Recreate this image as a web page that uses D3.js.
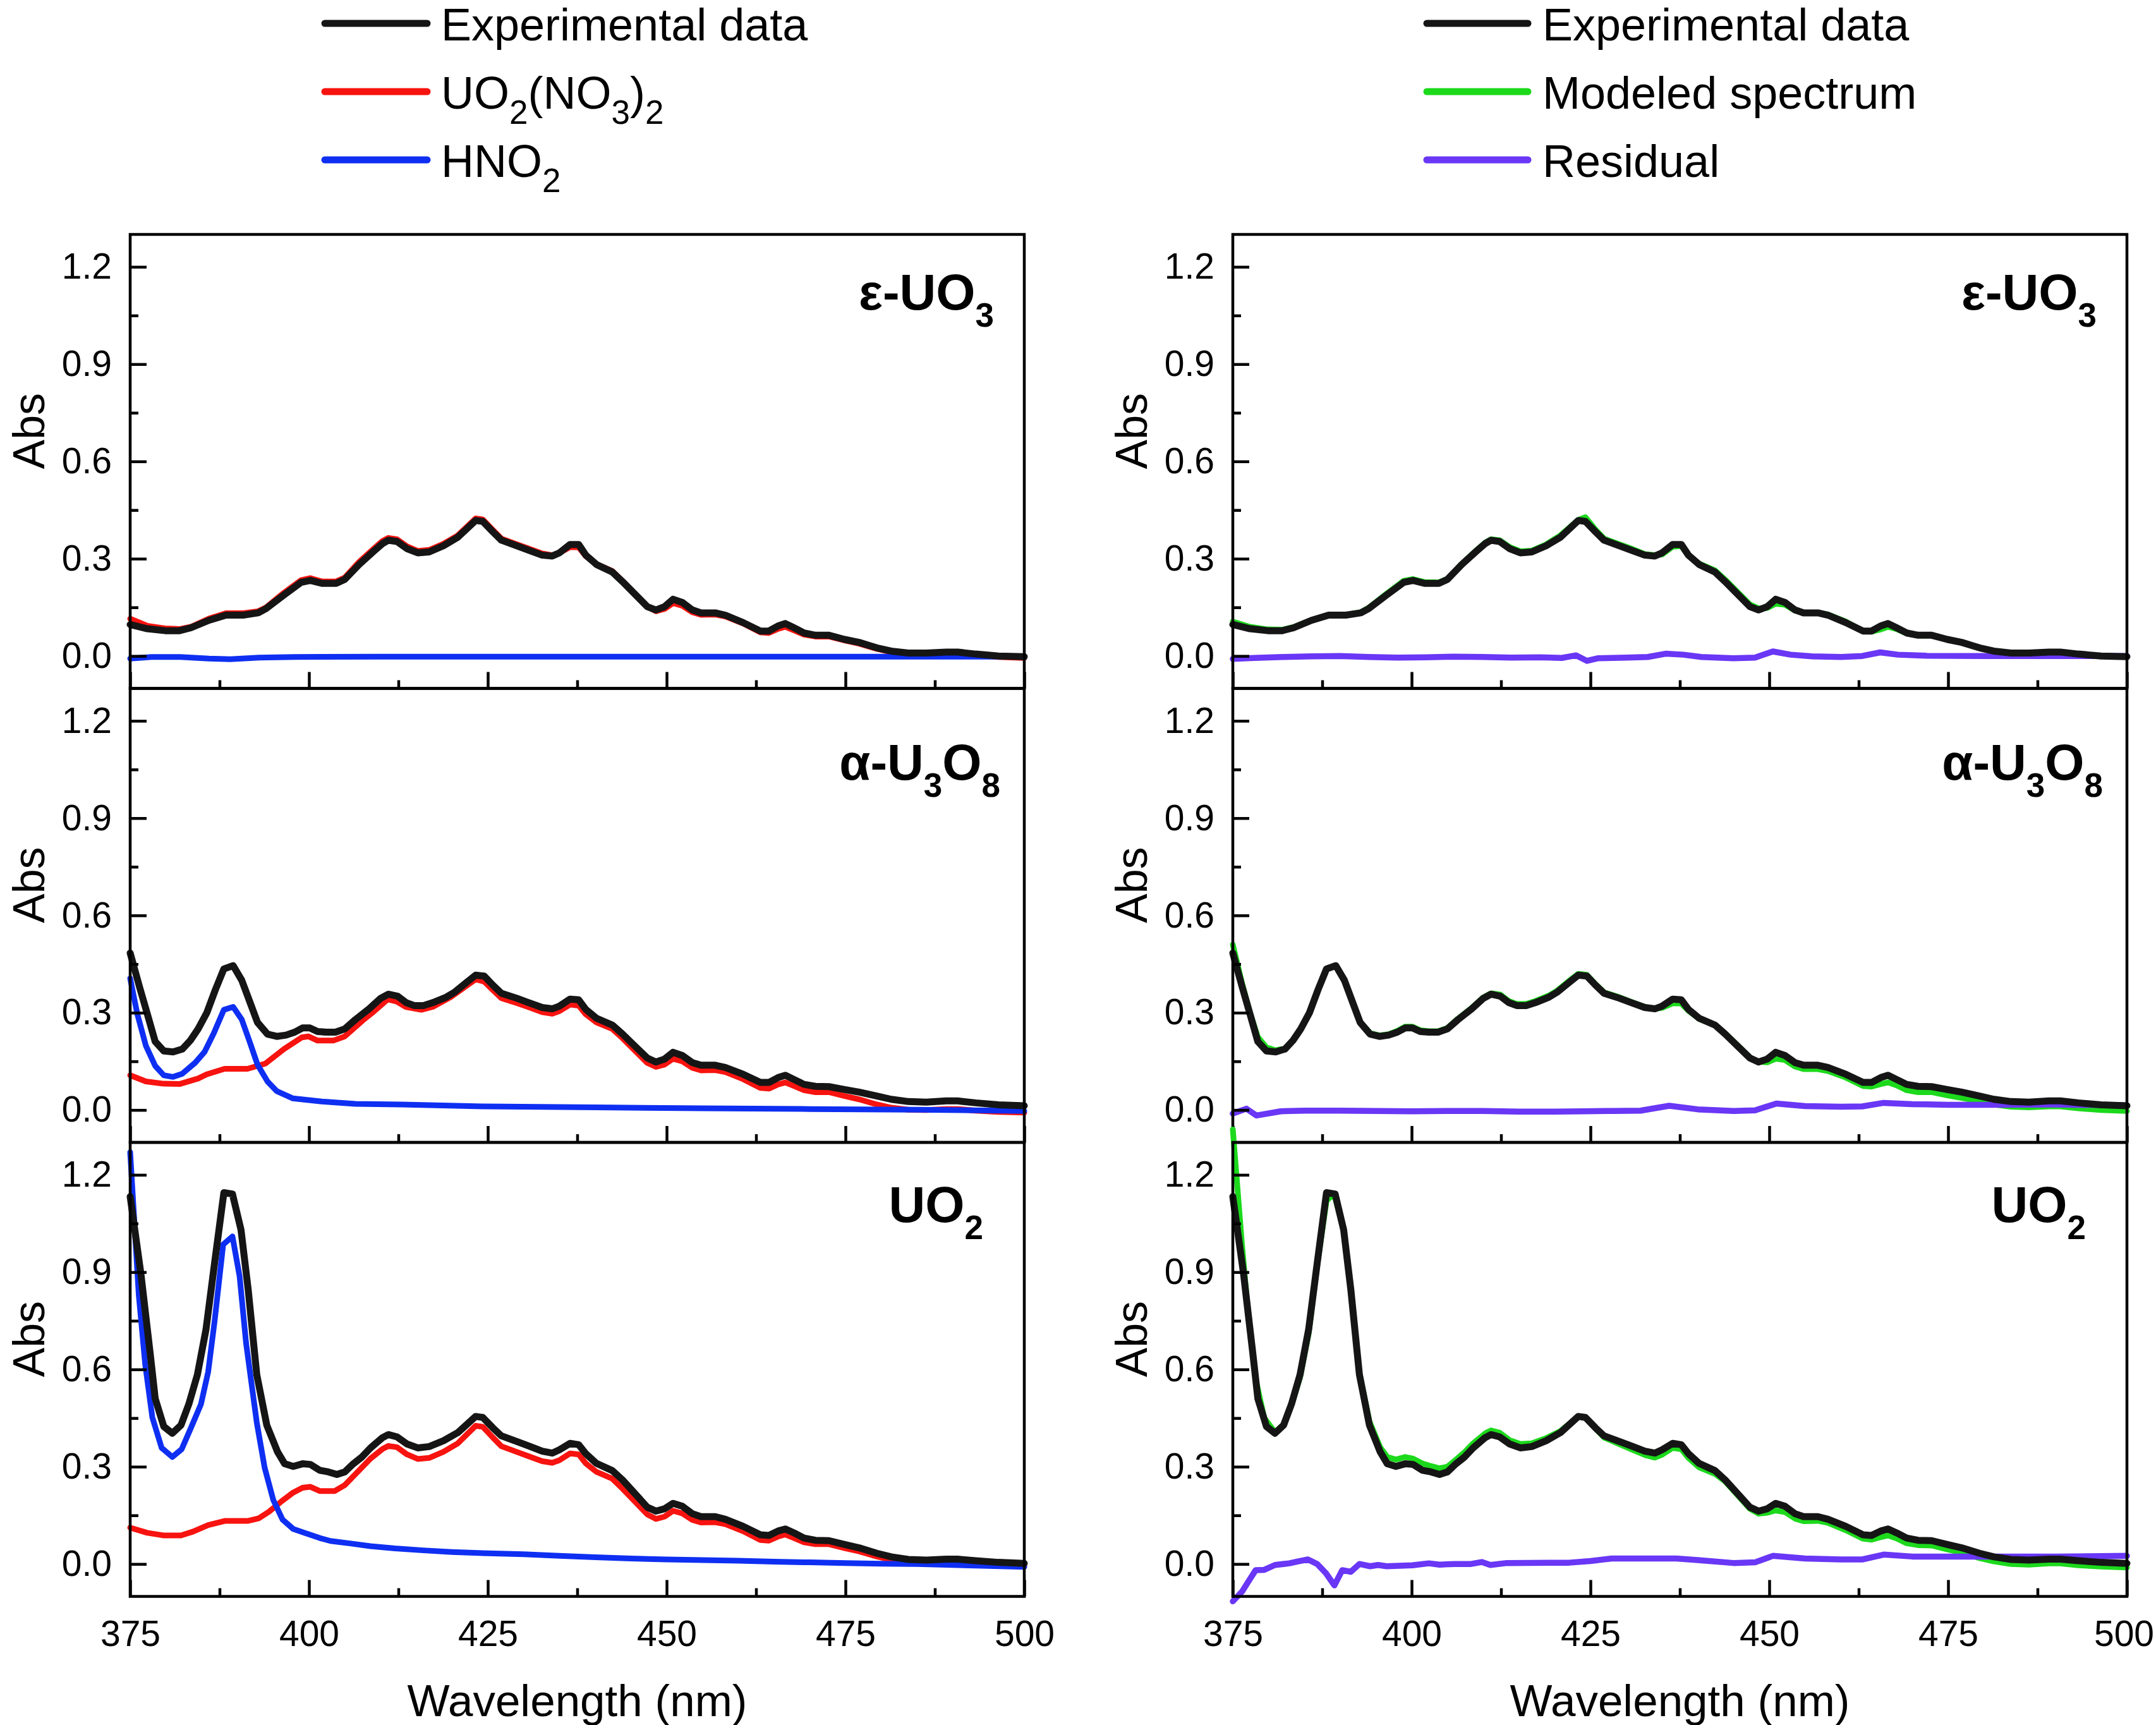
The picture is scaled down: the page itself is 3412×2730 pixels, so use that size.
<!DOCTYPE html>
<html>
<head>
<meta charset="utf-8">
<script src="https://cdn.jsdelivr.net/npm/d3@7"></script>
<style>
  body { margin: 0; background: #fff; }
  text { font-family: "Liberation Sans", Arial, sans-serif; }
</style>
</head>
<body>
<div id="chart"></div>
<script>
// ---- data: [wavelength nm, absorbance] ----
const xTicks = [375, 400, 425, 450, 475, 500];
const xMinor = [387.5, 412.5, 437.5, 462.5, 487.5];
const yTicks = [0.0, 0.3, 0.6, 0.9, 1.2];
const yMinor = [0.15, 0.45, 0.75, 1.05];

// row 1: epsilon-UO3
const expUO3 = [[375,0.097],[377.4,0.084],[379.9,0.078],[381.9,0.078],[383.5,0.087],[386,0.11],[388.4,0.126],[390.8,0.126],[392.9,0.133],[394,0.146],[396.5,0.188],[398.9,0.227],[400.2,0.233],[401.8,0.224],[403.8,0.224],[405,0.236],[407,0.282],[409.1,0.324],[410.3,0.347],[411.1,0.357],[412.3,0.353],[413.7,0.331],[415.2,0.318],[416.8,0.321],[418.8,0.34],[420.8,0.366],[423.3,0.418],[424.3,0.415],[425.7,0.383],[426.9,0.357],[429,0.34],[430.6,0.327],[432.6,0.311],[434,0.308],[435,0.318],[436.5,0.344],[437.7,0.344],[438.7,0.311],[440.2,0.282],[442.4,0.259],[443.8,0.23],[447.3,0.152],[448.5,0.142],[449.7,0.152],[450.9,0.175],[452.2,0.165],[453.6,0.142],[454.8,0.133],[456.8,0.133],[458.2,0.126],[460.7,0.103],[463.1,0.077],[464.3,0.077],[465.6,0.093],[466.6,0.1],[467.8,0.087],[469.2,0.071],[470.8,0.064],[472.7,0.064],[474.9,0.051],[476.9,0.042],[479.4,0.025],[481.4,0.015],[483.8,0.009],[486.3,0.009],[489.1,0.012],[490.7,0.012],[493.2,0.006],[496.4,0.0],[500,-0.002]];
const nitrateUO3 = [[375,0.115],[377.4,0.093],[379.9,0.085],[381.9,0.083],[383.5,0.09],[386,0.115],[388.4,0.132],[390.8,0.132],[392.9,0.138],[394,0.15],[396.5,0.195],[398.9,0.234],[400.2,0.24],[401.8,0.23],[403.8,0.23],[405,0.242],[407,0.29],[409.1,0.332],[410.3,0.355],[411.1,0.364],[412.3,0.36],[413.7,0.338],[415.2,0.324],[416.8,0.327],[418.8,0.346],[420.8,0.372],[423.3,0.424],[424.3,0.421],[425.7,0.389],[426.9,0.362],[429,0.345],[430.6,0.332],[432.6,0.316],[434,0.311],[435,0.318],[436.5,0.336],[437.7,0.335],[438.7,0.308],[440.2,0.283],[442.4,0.262],[443.8,0.232],[447.3,0.152],[448.5,0.138],[449.7,0.145],[450.9,0.163],[452.2,0.155],[453.6,0.135],[454.8,0.127],[456.8,0.128],[458.2,0.122],[460.7,0.1],[463.1,0.073],[464.3,0.071],[465.6,0.084],[466.6,0.09],[467.8,0.079],[469.2,0.066],[470.8,0.06],[472.7,0.06],[474.9,0.048],[476.9,0.038],[479.4,0.022],[481.4,0.012],[483.8,0.006],[486.3,0.006],[489.1,0.009],[490.7,0.009],[493.2,0.003],[496.4,-0.003],[500,-0.006]];
const hno2UO3 = [[375,-0.008],[378,-0.003],[382,-0.003],[386,-0.008],[389,-0.01],[393,-0.005],[398,-0.003],[410,-0.002],[450,-0.002],[500,-0.002]];
const modelUO3 = [[375,0.106],[377.4,0.09],[379.9,0.082],[381.9,0.081],[383.5,0.089],[386,0.111],[388.4,0.126],[390.8,0.126],[392.9,0.135],[394,0.149],[396.5,0.192],[398.9,0.232],[400.2,0.237],[401.8,0.228],[403.8,0.227],[405,0.238],[407,0.284],[409.1,0.327],[410.3,0.35],[411.1,0.36],[412.3,0.357],[413.7,0.336],[415.2,0.323],[416.8,0.325],[418.8,0.344],[420.8,0.372],[423.3,0.42],[424.3,0.428],[425.7,0.39],[426.9,0.362],[429,0.345],[430.6,0.332],[432.6,0.314],[434,0.311],[435,0.313],[436.5,0.337],[437.7,0.339],[438.7,0.309],[440.2,0.285],[442.4,0.264],[443.8,0.236],[447.3,0.159],[448.5,0.147],[449.7,0.148],[450.9,0.161],[452.2,0.158],[453.6,0.14],[454.8,0.134],[456.8,0.134],[458.2,0.128],[460.7,0.106],[463.1,0.077],[464.3,0.075],[465.6,0.082],[466.6,0.09],[467.8,0.083],[469.2,0.07],[470.8,0.063],[472.7,0.063],[474.9,0.051],[476.9,0.042],[479.4,0.025],[481.4,0.015],[483.8,0.009],[486.3,0.009],[489.1,0.012],[490.7,0.012],[493.2,0.006],[496.4,0.0],[500,-0.002]];
const residUO3 = [[375,-0.009],[378,-0.006],[382,-0.003],[386,-0.001],[390,0],[394,-0.003],[398,-0.005],[402,-0.004],[406,-0.002],[410,-0.003],[414,-0.005],[418,-0.004],[421,-0.006],[423,0.002],[424.5,-0.015],[426,-0.007],[430,-0.005],[433,-0.003],[435.5,0.007],[438,0.004],[440.5,-0.003],[445,-0.007],[448,-0.005],[450.5,0.014],[453,0.004],[456,-0.001],[460,-0.003],[463,0],[465.5,0.011],[468,0.004],[472,0.001],[480,0],[490,0],[500,0]];

// row 2: alpha-U3O8
const expU3O8 = [[375,0.484],[376.3,0.38],[377.4,0.296],[378.5,0.211],[379.7,0.182],[381,0.179],[382.3,0.188],[383.4,0.214],[384.5,0.25],[385.7,0.299],[386.9,0.37],[388.1,0.435],[389.4,0.445],[390.6,0.4],[391.7,0.335],[392.8,0.27],[394.2,0.234],[395.5,0.227],[396.8,0.231],[398,0.24],[399.1,0.253],[400.1,0.253],[401.2,0.242],[402.4,0.24],[403.7,0.24],[405,0.25],[406.5,0.279],[408.4,0.312],[410,0.344],[411.1,0.357],[412.4,0.351],[413.6,0.331],[414.7,0.322],[416,0.322],[417.3,0.331],[419.2,0.348],[420.4,0.364],[422,0.393],[423.3,0.416],[424.5,0.413],[425.7,0.385],[426.9,0.36],[429,0.345],[430.6,0.332],[432.6,0.316],[434,0.312],[435,0.32],[436.5,0.342],[437.7,0.34],[438.7,0.31],[440.2,0.283],[442.4,0.262],[443.8,0.235],[447.3,0.16],[448.5,0.148],[449.7,0.157],[450.9,0.178],[452.2,0.168],[453.6,0.146],[454.8,0.138],[456.8,0.138],[458.2,0.131],[460.7,0.11],[463.1,0.085],[464.3,0.085],[465.6,0.1],[466.6,0.107],[467.8,0.094],[469.2,0.079],[470.8,0.073],[472.7,0.072],[474.9,0.063],[476.9,0.055],[479.4,0.043],[481.4,0.033],[483.8,0.026],[486.3,0.024],[489.1,0.028],[490.7,0.028],[493.2,0.022],[496.4,0.016],[500,0.013]];
const nitrateU3O8 = [[375,0.107],[377.2,0.088],[379.7,0.081],[381.9,0.08],[384.5,0.097],[385.7,0.11],[388.2,0.127],[391.4,0.127],[393.9,0.143],[396.5,0.188],[399,0.224],[399.9,0.227],[401.2,0.214],[403.4,0.214],[405,0.227],[407.5,0.276],[408.8,0.299],[411,0.341],[412.2,0.335],[413.5,0.318],[415.7,0.309],[417.3,0.318],[419.8,0.348],[423.3,0.403],[424.5,0.396],[425.7,0.37],[426.9,0.345],[429,0.33],[430.6,0.318],[432.6,0.302],[434,0.297],[435,0.305],[436.5,0.325],[437.7,0.322],[438.7,0.295],[440.2,0.27],[442.4,0.25],[443.8,0.222],[447.3,0.145],[448.5,0.133],[449.7,0.14],[450.9,0.158],[452.2,0.15],[453.6,0.13],[454.8,0.122],[456.8,0.123],[458.2,0.117],[460.7,0.095],[463.1,0.068],[464.3,0.066],[465.6,0.079],[466.6,0.085],[467.8,0.074],[469.2,0.061],[470.8,0.055],[472.7,0.055],[474.9,0.043],[476.9,0.033],[479.4,0.017],[481.4,0.007],[483.8,0.001],[486.3,0.0],[489.1,0.003],[490.7,0.003],[493.2,-0.002],[496.4,-0.006],[500,-0.008]];
const hno2U3O8 = [[375,0.406],[376,0.296],[377.2,0.198],[378.5,0.136],[379.7,0.107],[381,0.102],[382.3,0.112],[384.1,0.146],[385.4,0.179],[386.7,0.237],[388.1,0.309],[389.4,0.318],[390.6,0.279],[391.7,0.211],[392.8,0.14],[394.2,0.088],[395.5,0.058],[397.7,0.036],[401.8,0.026],[406.5,0.019],[412.9,0.017],[424.5,0.011],[440,0.008],[455,0.005],[470,0.003],[485,0.001],[500,-0.003]];
const modelU3O8 = [[375,0.51],[376.3,0.39],[377.4,0.3],[378.5,0.225],[379.7,0.193],[381,0.184],[382.3,0.19],[383.4,0.215],[384.5,0.251],[385.7,0.3],[386.9,0.372],[388.1,0.436],[389.4,0.446],[390.6,0.402],[391.7,0.337],[392.8,0.272],[394.2,0.237],[395.5,0.23],[396.8,0.234],[398,0.244],[399.1,0.257],[400.1,0.257],[401.2,0.246],[402.4,0.243],[403.7,0.243],[405,0.253],[406.5,0.282],[408.4,0.315],[410,0.347],[411.1,0.36],[412.4,0.356],[413.6,0.336],[414.7,0.327],[416,0.327],[417.3,0.336],[419.2,0.353],[420.4,0.369],[422,0.398],[423.3,0.42],[424.5,0.417],[425.7,0.388],[426.9,0.363],[429,0.348],[430.6,0.334],[432.6,0.318],[434,0.312],[435,0.315],[436.5,0.329],[437.7,0.328],[438.7,0.306],[440.2,0.281],[442.4,0.262],[443.8,0.237],[447.3,0.162],[448.5,0.149],[449.7,0.147],[450.9,0.158],[452.2,0.154],[453.6,0.134],[454.8,0.126],[456.8,0.126],[458.2,0.12],[460.7,0.1],[463.1,0.074],[464.3,0.072],[465.6,0.08],[466.6,0.085],[467.8,0.076],[469.2,0.061],[470.8,0.055],[472.7,0.055],[474.9,0.045],[476.9,0.037],[479.4,0.027],[481.4,0.017],[483.8,0.01],[486.3,0.008],[489.1,0.011],[490.7,0.011],[493.2,0.005],[496.4,0.0],[500,-0.003]];
const residU3O8 = [[375,-0.011],[376.9,0.004],[378.3,-0.017],[381.7,-0.004],[385,-0.002],[390,-0.002],[395,-0.003],[400,-0.004],[405,-0.003],[410,-0.003],[415,-0.005],[420,-0.005],[424,-0.004],[428,-0.003],[432,-0.002],[436,0.013],[440,0.002],[445,-0.003],[448,-0.001],[451,0.02],[455,0.012],[460,0.01],[463,0.011],[466,0.022],[470,0.018],[475,0.016],[480,0.016],[490,0.017],[500,0.014]];

// row 3: UO2
const expUO2 = [[375,1.133],[376.5,0.895],[377.8,0.649],[378.5,0.51],[379.7,0.424],[380.9,0.403],[382.1,0.428],[383.2,0.493],[384.4,0.584],[385.6,0.723],[386.8,0.928],[388.1,1.145],[389.3,1.141],[390.5,1.03],[391.5,0.846],[392.7,0.584],[394.1,0.428],[395.6,0.346],[396.6,0.309],[397.8,0.301],[399.1,0.309],[400.2,0.307],[401.5,0.289],[402.7,0.284],[403.9,0.276],[405,0.284],[406.2,0.309],[407.4,0.33],[408.6,0.358],[410.3,0.39],[411.1,0.399],[412.3,0.392],[413.7,0.37],[415.2,0.358],[416.8,0.362],[418.8,0.38],[420.8,0.405],[423.3,0.455],[424.3,0.452],[425.7,0.42],[426.9,0.395],[429,0.378],[430.6,0.365],[432.6,0.348],[434,0.342],[435,0.352],[436.5,0.372],[437.7,0.368],[438.7,0.34],[440.2,0.31],[442.4,0.288],[443.8,0.26],[447.3,0.175],[448.5,0.163],[449.7,0.17],[450.9,0.187],[452.2,0.178],[453.6,0.155],[454.8,0.146],[456.8,0.146],[458.2,0.138],[460.7,0.116],[463.1,0.09],[464.3,0.088],[465.6,0.102],[466.6,0.108],[467.8,0.096],[469.2,0.08],[470.8,0.073],[472.7,0.072],[474.9,0.06],[476.9,0.05],[479.4,0.033],[481.4,0.022],[483.8,0.014],[486.3,0.012],[489.1,0.015],[490.7,0.015],[493.2,0.01],[496.4,0.005],[500,0.002]];
const nitrateUO2 = [[375,0.112],[377.4,0.096],[379.7,0.088],[382.1,0.088],[383.8,0.1],[385.9,0.12],[388.3,0.133],[391.5,0.133],[393,0.141],[394.4,0.161],[396.2,0.194],[397.7,0.219],[399.1,0.235],[400.2,0.238],[401.5,0.225],[403.6,0.225],[405,0.243],[406.8,0.284],[408.6,0.325],[410.3,0.355],[411.1,0.364],[412.3,0.36],[413.7,0.338],[415.2,0.324],[416.8,0.327],[418.8,0.346],[420.8,0.372],[423.3,0.426],[424.3,0.423],[425.7,0.39],[426.9,0.363],[429,0.346],[430.6,0.333],[432.6,0.317],[434,0.312],[435,0.32],[436.5,0.341],[437.7,0.338],[438.7,0.31],[440.2,0.284],[442.4,0.263],[443.8,0.233],[447.3,0.153],[448.5,0.139],[449.7,0.146],[450.9,0.164],[452.2,0.156],[453.6,0.136],[454.8,0.128],[456.8,0.129],[458.2,0.123],[460.7,0.101],[463.1,0.074],[464.3,0.072],[465.6,0.085],[466.6,0.091],[467.8,0.08],[469.2,0.067],[470.8,0.061],[472.7,0.061],[474.9,0.049],[476.9,0.039],[479.4,0.023],[481.4,0.013],[483.8,0.007],[486.3,0.006],[489.1,0.009],[490.7,0.009],[493.2,0.003],[496.4,-0.003],[500,-0.006]];
const hno2UO2 = [[375,1.27],[376.2,0.83],[377.1,0.616],[378.1,0.452],[379.4,0.358],[380.9,0.33],[382.2,0.354],[383.5,0.42],[384.9,0.493],[385.9,0.592],[386.8,0.748],[388,0.985],[389.3,1.01],[390.3,0.887],[391.2,0.682],[392.7,0.436],[393.8,0.297],[395,0.198],[396.3,0.137],[397.8,0.108],[399.4,0.096],[401.5,0.08],[403,0.071],[405.9,0.063],[408.6,0.055],[412,0.048],[416,0.042],[420,0.037],[425,0.033],[430,0.03],[435,0.025],[440,0.021],[445,0.017],[450,0.014],[455,0.012],[460,0.01],[465,0.007],[470,0.005],[475,0.003],[480,0.001],[485,0.0],[490,-0.003],[495,-0.006],[500,-0.009]];
const modelUO2 = [[375,1.34],[376.3,0.98],[377.2,0.76],[378.2,0.57],[379.4,0.45],[380.9,0.406],[382.1,0.43],[383.2,0.49],[384.4,0.575],[385.6,0.71],[386.8,0.92],[388.1,1.12],[388.8,1.135],[389.3,1.13],[390.5,1.03],[391.5,0.85],[392.7,0.59],[394.1,0.44],[395.6,0.36],[396.6,0.33],[397.8,0.322],[399.1,0.33],[400.2,0.325],[401.5,0.31],[402.7,0.302],[403.9,0.295],[405,0.3],[406.2,0.322],[407.4,0.345],[408.6,0.372],[410.3,0.403],[411.1,0.412],[412.3,0.405],[413.7,0.382],[415.2,0.37],[416.8,0.372],[418.8,0.388],[420.8,0.41],[423.3,0.455],[424.3,0.452],[425.7,0.418],[426.9,0.39],[429,0.37],[430.6,0.355],[432.6,0.336],[434,0.328],[435,0.337],[436.5,0.358],[437.7,0.354],[438.7,0.327],[440.2,0.298],[442.4,0.278],[443.8,0.255],[447.3,0.17],[448.5,0.155],[449.7,0.158],[450.9,0.165],[452.2,0.16],[453.6,0.14],[454.8,0.132],[456.8,0.133],[458.2,0.127],[460.7,0.104],[463.1,0.078],[464.3,0.075],[465.6,0.083],[466.6,0.088],[467.8,0.079],[469.2,0.064],[470.8,0.058],[472.7,0.057],[474.9,0.045],[476.9,0.035],[479.4,0.018],[481.4,0.008],[483.8,0.0],[486.3,-0.002],[489.1,0.002],[490.7,0.002],[493.2,-0.004],[496.4,-0.008],[500,-0.011]];
const residUO2 = [[375,-0.115],[376.3,-0.085],[377.2,-0.053],[378.2,-0.019],[379.4,-0.018],[380.9,-0.003],[382.9,0.002],[384.1,0.008],[385.5,0.014],[386.8,0.0],[388,-0.028],[389.2,-0.066],[390.3,-0.019],[391.5,-0.024],[392.7,0.0],[394.2,-0.007],[395.3,-0.003],[396.5,-0.007],[400.1,-0.004],[402.4,0.002],[403.9,-0.002],[406,0.0],[408.3,0.0],[409.8,0.006],[411,-0.003],[413.3,0.003],[419.2,0.004],[422,0.004],[425,0.009],[428,0.017],[437,0.017],[440,0.012],[445,0.003],[448,0.005],[450.5,0.025],[455,0.017],[460,0.014],[463,0.014],[466,0.029],[470,0.023],[480,0.023],[490,0.023],[500,0.025]];

// text pieces: [string, isSubscript]
const rowLabels = [
  [["ε-UO", 0], ["3", 1]],
  [["α-U", 0], ["3", 1], ["O", 0], ["8", 1]],
  [["UO", 0], ["2", 1]]
];
const leftLegend = [
  { key: "exp", pieces: [["Experimental data", 0]] },
  { key: "nitrate", pieces: [["UO", 0], ["2", 1], ["(NO", 0], ["3", 1], [")", 0], ["2", 1]] },
  { key: "hno2", pieces: [["HNO", 0], ["2", 1]] }
];
const rightLegend = [
  { key: "exp", pieces: [["Experimental data", 0]] },
  { key: "model", pieces: [["Modeled spectrum", 0]] },
  { key: "resid", pieces: [["Residual", 0]] }
];

const rowsLeft = [
  { nitrate: nitrateUO3, hno2: hno2UO3, exp: expUO3 },
  { nitrate: nitrateU3O8, hno2: hno2U3O8, exp: expU3O8 },
  { nitrate: nitrateUO2, hno2: hno2UO2, exp: expUO2 }
];
const rowsRight = [
  { model: modelUO3, resid: residUO3, exp: expUO3 },
  { model: modelU3O8, resid: residU3O8, exp: expU3O8 },
  { model: modelUO2, resid: residUO2, exp: expUO2 }
];

// ---- layout ----
const width = 3412, height = 2730;
const colX = [206, 1951];
const panelW = 1415;
const rowY = [371, 1089.5, 1808];
const panelH = 718.5;
const labelRight = [48, 38, 65];   // distance of the compound label from right frame
const labelBase = [119, 144, 126]; // baseline below panel top

const color = {
  exp: "#151515",
  nitrate: "#f7130f",
  hno2: "#0e2ff2",
  model: "#1cd91c",
  resid: "#6937f5"
};
const lineW = { exp: 11, nitrate: 9, hno2: 9, model: 9, resid: 9.5 };

const svg = d3.select("#chart")
  .append("svg")
  .attr("width", width)
  .attr("height", height)
  .style("background", "#fff");

function richText(sel, pieces, subSize, subShift) {
  let down = false;
  pieces.forEach(([s, sub]) => {
    const t = sel.append("tspan").text(s);
    if (sub) {
      t.attr("font-size", subSize);
      if (!down) { t.attr("dy", subShift); down = true; }
    } else if (down) {
      t.attr("dy", -subShift); down = false;
    }
  });
}

function drawPanel(col, row, series, order) {
  const x0 = colX[col], y0 = rowY[row];
  const x = d3.scaleLinear().domain([375, 500]).range([x0, x0 + panelW]);
  const y = d3.scaleLinear().domain([-0.1, 1.3]).range([y0 + panelH, y0]);
  const g = svg.append("g");

  const line = d3.line()
    .x(d => x(d[0]))
    .y(d => y(d[1]));

  order.forEach(k => {
    g.append("path")
      .datum(series[k])
      .attr("d", line)
      .attr("fill", "none")
      .attr("stroke", color[k])
      .attr("stroke-width", lineW[k])
      .attr("stroke-linejoin", "round")
      .attr("stroke-linecap", "round");
  });

  // y axis, ticks pointing inward
  const yAx = g.append("g")
    .attr("transform", `translate(${x0},0)`)
    .call(d3.axisLeft(y).tickValues(yTicks).tickSize(-26).tickPadding(29).tickFormat(d3.format(".1f")));
  const yAxMinor = g.append("g")
    .attr("transform", `translate(${x0},0)`)
    .call(d3.axisLeft(y).tickValues(yMinor).tickSize(-13).tickFormat(""));

  // x axis at panel bottom
  const xAx = g.append("g")
    .attr("transform", `translate(0,${y0 + panelH})`)
    .call(d3.axisBottom(x).tickValues(xTicks).tickSize(-26).tickPadding(38)
      .tickFormat(row === 2 ? d3.format("d") : ""));
  const xAxMinor = g.append("g")
    .attr("transform", `translate(0,${y0 + panelH})`)
    .call(d3.axisBottom(x).tickValues(xMinor).tickSize(-13).tickFormat(""));

  [yAx, yAxMinor, xAx, xAxMinor].forEach(a => {
    a.select(".domain").remove();
    a.selectAll(".tick line").attr("stroke", "#000").attr("stroke-width", 4.5);
    a.selectAll(".tick text")
      .attr("fill", "#000")
      .attr("font-size", 57)
      .attr("font-family", "'Liberation Sans', Arial, sans-serif");
  });
  // keep the last label of the right column inside the page
  if (col === 1) xAx.selectAll(".tick text").filter(d => d === 500).attr("dx", -5);

  g.append("rect")
    .attr("x", x0).attr("y", y0)
    .attr("width", panelW).attr("height", panelH)
    .attr("fill", "none")
    .attr("stroke", "#000")
    .attr("stroke-width", 4.5);

  g.append("text")
    .attr("transform", `translate(${x0 - 136},${y0 + panelH / 2 - 48}) rotate(-90)`)
    .attr("text-anchor", "middle")
    .attr("font-size", 70)
    .attr("fill", "#000")
    .text("Abs");

  const lbl = g.append("text")
    .attr("x", x0 + panelW - labelRight[row])
    .attr("y", y0 + labelBase[row])
    .attr("text-anchor", "end")
    .attr("font-size", 80)
    .attr("font-weight", "bold")
    .attr("fill", "#000");
  richText(lbl, rowLabels[row], 53, 27);

  if (row === 2) {
    g.append("text")
      .attr("x", x0 + panelW / 2)
      .attr("y", 2716)
      .attr("text-anchor", "middle")
      .attr("font-size", 71)
      .attr("fill", "#000")
      .text("Wavelength (nm)");
  }
}

rowsLeft.forEach((s, i) => drawPanel(0, i, s, ["nitrate", "hno2", "exp"]));
rowsRight.forEach((s, i) => drawPanel(1, i, s, ["model", "resid", "exp"]));

function drawLegend(items, lineX0, lineX1, textX) {
  const g = svg.append("g");
  items.forEach((d, i) => {
    const base = 64 + i * 108;
    g.append("line")
      .attr("x1", lineX0).attr("x2", lineX1)
      .attr("y1", base - 27).attr("y2", base - 27)
      .attr("stroke", color[d.key])
      .attr("stroke-width", 11)
      .attr("stroke-linecap", "round");
    const t = g.append("text")
      .attr("x", textX)
      .attr("y", base)
      .attr("font-size", 72)
      .attr("fill", "#000");
    richText(t, d.pieces, 53, 24);
  });
}

drawLegend(leftLegend, 514, 676, 698);
drawLegend(rightLegend, 2258, 2418, 2441);
</script>
</body>
</html>
